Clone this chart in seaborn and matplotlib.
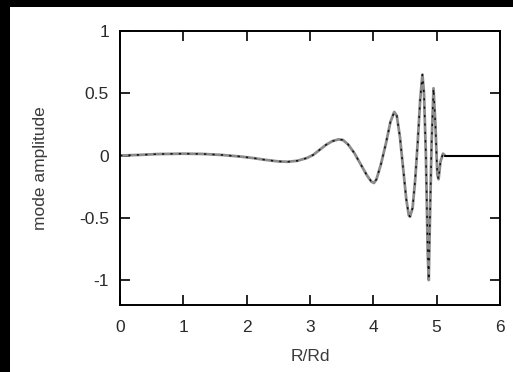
import numpy as np
import pandas as pd
import matplotlib
matplotlib.use("Agg")
import matplotlib.pyplot as plt
import seaborn as sns

# Values
r_values = [0.0, 0.3, 0.6, 1.0, 1.3, 1.6, 1.9, 2.1, 2.3, 2.5, 2.65, 2.8, 2.95,
            3.05, 3.15, 3.25, 3.35, 3.45, 3.52, 3.6, 3.7, 3.8, 3.9, 3.97, 4.01,
            4.05, 4.12, 4.2, 4.27, 4.33, 4.37, 4.42, 4.47, 4.52, 4.56, 4.58,
            4.62, 4.66, 4.7, 4.74, 4.775, 4.8, 4.83, 4.86, 4.875, 4.89, 4.92,
            4.95, 4.98, 5.01, 5.03, 5.06, 5.1, 5.13, 6.0]
amplitude = [0.0, 0.005, 0.012, 0.015, 0.013, 0.005, -0.008, -0.02, -0.035,
             -0.047, -0.05, -0.042, -0.02, 0.005, 0.045, 0.085, 0.115, 0.13,
             0.125, 0.09, 0.02, -0.07, -0.16, -0.21, -0.22, -0.19, -0.07, 0.1,
             0.27, 0.35, 0.32, 0.15, -0.1, -0.35, -0.48, -0.49, -0.42, -0.2,
             0.1, 0.45, 0.65, 0.5, 0.0, -0.8, -1.0, -0.6, 0.1, 0.54, 0.25,
             -0.15, -0.19, -0.05, 0.015, 0.0, 0.0]
x_ticks = [0, 1, 2, 3, 4, 5, 6]
y_ticks = [-1, -0.5, 0, 0.5, 1]
y_tick_labels = ["-1", "-0.5", "0", "0.5", "1"]

df = pd.DataFrame({"R": r_values, "amp": amplitude})
osc = df[df["R"] <= 5.13]
tail = df[df["R"] >= 5.13]

sns.set_style("ticks")
plt.rcParams["font.family"] = ["Liberation Sans", "DejaVu Sans"]

fig = plt.figure(figsize=(5.13, 3.72), dpi=100, facecolor="black")
bg = plt.Rectangle((10 / 513, 0), 503 / 513, 365 / 372,
                   transform=fig.transFigure, facecolor="white",
                   edgecolor="none", zorder=-10)
fig.add_artist(bg)
ax = fig.add_axes([120 / 513, (372 - 305) / 372, 380 / 513, 274 / 372])
ax.set_zorder(5)
ax.set_facecolor("white")

sns.lineplot(data=osc, x="R", y="amp", ax=ax, color="#8c8c8c", linewidth=2.0,
             sort=False, estimator=None)
sns.lineplot(data=osc, x="R", y="amp", ax=ax, color="#111111", linewidth=1.1,
             sort=False, estimator=None, linestyle=(0, (1.5, 4)))
sns.lineplot(data=tail, x="R", y="amp", ax=ax, color="black", linewidth=1.5,
             sort=False, estimator=None)

ax.set_xlim(0, 6)
ax.set_ylim(-1.2, 1.0)
ax.set_xticks(x_ticks)
ax.set_xticklabels([str(t) for t in x_ticks])
ax.set_yticks(y_ticks)
ax.set_yticklabels(y_tick_labels)
ax.tick_params(direction="in", length=7, width=1.2, top=True, right=True,
               labelsize=12.5, pad=8, colors="black", labelcolor="#2a2a2a")
ax.tick_params(axis="x", pad=11)
for s in ax.spines.values():
    s.set_linewidth(1.4)
    s.set_color("black")
    s.set_visible(True)

ax.set_xlabel("R/Rd", fontsize=12.5, color="#3a3a3a", labelpad=10)
ax.set_ylabel("mode amplitude", fontsize=12.5, color="#3a3a3a", labelpad=22)

fig.savefig("out.png", dpi=100, facecolor="black")
